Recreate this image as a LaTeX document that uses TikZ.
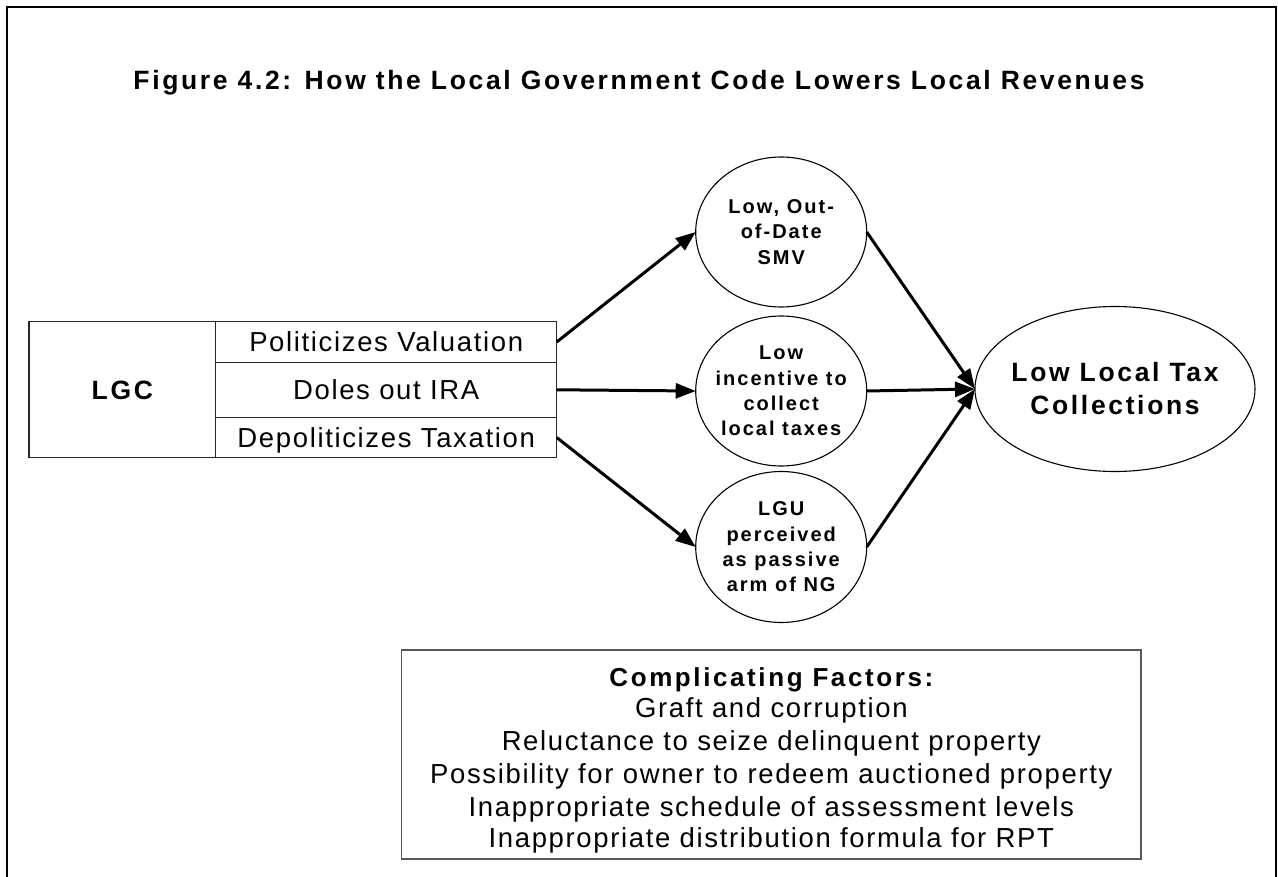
\documentclass[tikz,border=0pt]{standalone}
\usepackage{fontspec}
\setmainfont{Liberation Sans}
\newfontfamily\spacedreg[LetterSpace=6]{Liberation Sans}
\newfontfamily\spacedbold[LetterSpace=10]{Liberation Sans}
\usetikzlibrary{arrows.meta,shapes.geometric}
\tikzset{
  cell/.style={draw=black!85, line width=1.1pt, rectangle, inner sep=0pt, outer sep=0pt,
    text height=19.7pt, text depth=0pt, font=\spacedreg\fontsize{27.5}{32}\selectfont},
  ell/.style={draw=black, line width=1.1pt, ellipse, inner sep=0pt, outer sep=0pt},
  etext/.style={align=center, inner sep=0pt, font=\spacedbold\bfseries\fontsize{20}{25.3}\selectfont},
  bigtext/.style={align=center, inner sep=0pt, font=\spacedbold\bfseries\fontsize{26.5}{33}\selectfont},
  arr/.style={line width=3pt, -{Triangle[length=20pt,width=15pt]}},
  linetext/.style={anchor=base, inner sep=0pt, font=\spacedreg\fontsize{27.5}{32}\selectfont},
}
\begin{document}
\begin{tikzpicture}[x=1pt,y=-1pt]
\useasboundingbox (0,0) rectangle (1278,877);
% frame
\draw[line width=2pt] (7,877) -- (7,7) -- (1276,7) -- (1276,877);
% title
\node[anchor=base, inner sep=0pt, font=\spacedbold\bfseries\fontsize{26.5}{32}\selectfont] (title) at (639,90)
  {Figure 4.2: How the Local Government Code Lowers Local Revenues};
% table
\node[cell, minimum width=186.7pt, minimum height=136pt, text height=19pt,
  font=\spacedbold\bfseries\fontsize{26.5}{32}\selectfont] (lgc) at (122.35,389.7) {LGC};
\node[cell, minimum width=341pt, minimum height=40.6pt] (pv) at (386.2,342) {Politicizes Valuation};
\node[cell, minimum width=341pt, minimum height=55pt] (ira) at (386.2,389.8) {Doles out IRA};
\node[cell, minimum width=341pt, minimum height=40.4pt] (dt) at (386.2,437.5) {Depoliticizes Taxation};
% ellipses
\node[ell, minimum width=171pt, minimum height=150pt] (smv) at (781.2,232) {};
\node[etext] (smvt) at (smv.center) {Low, Out-\\of-Date\\SMV};
\node[ell, minimum width=171pt, minimum height=150pt] (inc) at (781.2,391) {};
\node[etext] (inct) at (inc.center) {Low\\incentive to\\collect\\local taxes};
\node[ell, minimum width=171pt, minimum height=151pt] (lgu) at (781.2,547) {};
\node[etext] (lgut) at (lgu.center) {LGU\\perceived\\as passive\\arm of NG};
\node[ell, minimum width=280pt, minimum height=165pt] (low) at (1115,389) {};
\node[bigtext] (lowt) at (low.center) {Low Local Tax\\Collections};
% arrows
\draw[arr] (pv.east) -- (smv.west);
\draw[arr] (ira.east) -- (inc.west);
\draw[arr] (dt.east) -- (lgu.west);
\draw[arr] (smv.east) -- (low.west);
\draw[arr] (inc.east) -- (low.west);
\draw[arr] (lgu.east) -- (low.west);
% complicating factors
\node[draw=black!65, line width=1.5pt, rectangle, inner sep=0pt, outer sep=0pt,
  minimum width=739.3pt, minimum height=209pt] (cfbox) at (771.35,754.5) {};
\node[linetext, font=\spacedbold\bfseries\fontsize{26}{32}\selectfont] (cf0) at (771.35,686.5) {Complicating Factors:};
\node[linetext] (cf1) at (771.35,717.5) {Graft and corruption};
\node[linetext] (cf2) at (771.35,750) {Reluctance to seize delinquent property};
\node[linetext] (cf3) at (771.35,783) {Possibility for owner to redeem auctioned property};
\node[linetext] (cf4) at (771.35,816) {Inappropriate schedule of assessment levels};
\node[linetext] (cf5) at (771.35,847) {Inappropriate distribution formula for RPT};
\end{tikzpicture}
\end{document}
